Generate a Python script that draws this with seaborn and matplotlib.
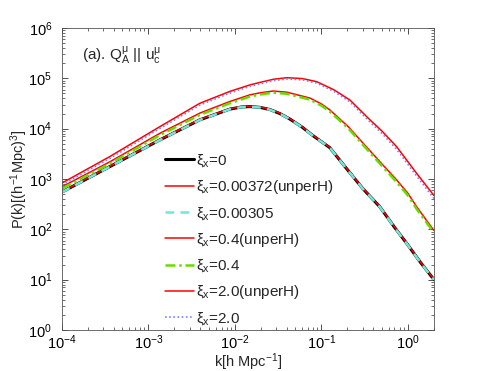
import matplotlib
matplotlib.use("Agg")
from matplotlib import pyplot as plt
import numpy as np
import pandas as pd
import seaborn as sns

# P(k) in (h^-1 Mpc)^3
k_low = [1e-4, 3.59e-4, 1.36e-3, 3.94e-3, 8.75e-3, 0.012, 0.0149, 0.0195, 0.0254,
         0.033, 0.0433, 0.06, 0.0806, 0.125, 0.196, 0.3, 0.474, 0.7, 0.966, 1.4,
         1.88, 2.0]
p_xi0 = [550, 1770, 6000, 15000, 24500, 27000, 27500, 26500, 24000,
         20000, 15500, 10700, 7200, 4200, 1600, 650, 280, 110, 53, 22,
         11.5, 10]
p_xi00372u = [560, 1800, 6100, 15300, 24900, 27400, 27900, 26900, 24400,
              20300, 15700, 10850, 7300, 4250, 1620, 660, 284, 112, 54, 22.3,
              11.7, 10.2]
p_xi00305 = [545, 1760, 5950, 14900, 24300, 26800, 27300, 26300, 23800,
             19850, 15400, 10600, 7150, 4180, 1590, 645, 278, 109, 52.5, 21.8,
             11.4, 9.9]

k_mid = [1e-4, 3.59e-4, 1.36e-3, 3.94e-3, 8.75e-3, 0.0149, 0.0195, 0.0277, 0.04,
         0.0738, 0.1, 0.125, 0.204, 0.305, 0.5, 0.74, 1.0, 1.26, 1.6, 2.0]
p_xi04u = [700, 2200, 8100, 20400, 34700, 47000, 51500, 56000, 53000,
           40500, 31000, 23600, 11000, 5100, 2000, 960, 520, 283, 160, 95]
p_xi04 = [645, 2030, 7450, 18800, 32000, 43500, 47700, 52000, 49300,
          37700, 28700, 21900, 10200, 4700, 1830, 870, 470, 255, 145, 86]

k_top = [1e-4, 3.59e-4, 1.36e-3, 3.94e-3, 8.75e-3, 0.0149, 0.0195, 0.028, 0.04,
         0.06, 0.088, 0.14, 0.214, 0.364, 0.5, 0.74, 1.26, 2.0]
p_xi2u = [830, 2800, 11000, 32000, 55000, 74000, 83000, 96000, 103000,
          99000, 86000, 59000, 37000, 15000, 9000, 4400, 1300, 470]
p_xi2 = [760, 2570, 10100, 29500, 51000, 69000, 77500, 90000, 97000,
         93500, 80500, 55000, 34000, 13600, 8100, 3900, 1150, 410]

sns.set_style("ticks")
plt.rcParams['font.family'] = ['Liberation Sans', 'DejaVu Sans']
plt.rcParams['mathtext.fontset'] = 'custom'
plt.rcParams['mathtext.rm'] = 'Liberation Sans'
plt.rcParams['mathtext.it'] = 'Liberation Sans'

fig = plt.figure(figsize=(4.8, 3.71), dpi=100)
ax = fig.add_axes([0.129, 0.1105, 0.775, 0.814])

curves = [
    (k_low, p_xi0, 'black', 2.2, '-', r'$\xi_x$=0'),
    (k_low, p_xi00372u, 'red', 1.1, '-', r'$\xi_x$=0.00372(unperH)'),
    (k_low, p_xi00305, '#70e8d8', 1.8, (0, (3.5, 2.5)), r'$\xi_x$=0.00305'),
    (k_mid, p_xi04u, 'red', 1.1, '-', r'$\xi_x$=0.4(unperH)'),
    (k_mid, p_xi04, '#66dd00', 1.8, (0, (4, 1.5, 1, 1.5)), r'$\xi_x$=0.4'),
    (k_top, p_xi2u, 'red', 1.1, '-', r'$\xi_x$=2.0(unperH)'),
    (k_top, p_xi2, '#8080ff', 1.2, (0, (1, 1.5)), r'$\xi_x$=2.0'),
]

for kk, pp, col, lw, ls, lab in curves:
    df = pd.DataFrame({'k': kk, 'P': pp})
    sns.lineplot(data=df, x='k', y='P', ax=ax, color=col, lw=lw,
                 linestyle=ls, label=lab, sort=True)

ax.set_xscale('log')
ax.set_yscale('log')
ax.set_xlim(1e-4, 2.0)
ax.set_ylim(1, 1e6)
ax.set_xticks([1e-4, 1e-3, 1e-2, 1e-1, 1e0])
ax.set_yticks([1e0, 1e1, 1e2, 1e3, 1e4, 1e5, 1e6])
ax.tick_params(which='both', direction='in', top=True, right=True,
               labelsize=10.5, colors='#333333', labelcolor='black')
ax.tick_params(axis='y', pad=7)
ax.tick_params(axis='x', pad=2.5)
ax.tick_params(which='major', length=4, width=0.6)
ax.tick_params(which='minor', length=2, width=0.5)
for s in ax.spines.values():
    s.set_linewidth(0.6)
    s.set_color('#555555')

ax.set_xlabel(r'k[h Mpc$^{-1}$]', fontsize=10.5, labelpad=-0.5)
ax.set_ylabel(r'P(k)[(h$^{-1}$Mpc)$^3$]', fontsize=10.5, labelpad=-1)

ax.text(0.054, 0.91, r'(a). Q$^{\mu}_{A}$ || u$^{\mu}_{c}$', transform=ax.transAxes,
        fontsize=11, va='center', ha='left')

leg = ax.legend(loc='upper left', bbox_to_anchor=(0.278, 0.588), frameon=False,
                fontsize=11, handlelength=1.9, handletextpad=0.1,
                labelspacing=0.58, borderaxespad=0, borderpad=0)

fig.savefig('out.png', dpi=100)
